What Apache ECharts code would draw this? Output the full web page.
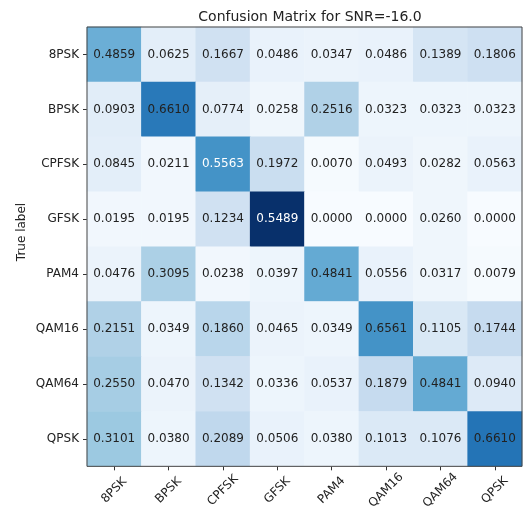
<!DOCTYPE html>
<html>
<head>
<meta charset="utf-8">
<script src="https://cdn.jsdelivr.net/npm/echarts@6/dist/echarts.min.js"></script>
<style>html,body{margin:0;padding:0;background:#fff}#c{width:526px;height:512px}</style>
</head>
<body>
<div id="c"></div>
<script>
const labels = ['8PSK','BPSK','CPFSK','GFSK','PAM4','QAM16','QAM64','QPSK'];
// Displayed normalized values (rows = true label, cols = predicted)
const values = [
  [0.4859,0.0625,0.1667,0.0486,0.0347,0.0486,0.1389,0.1806],
  [0.0903,0.6610,0.0774,0.0258,0.2516,0.0323,0.0323,0.0323],
  [0.0845,0.0211,0.5563,0.1972,0.0070,0.0493,0.0282,0.0563],
  [0.0195,0.0195,0.1234,0.5489,0.0000,0.0000,0.0260,0.0000],
  [0.0476,0.3095,0.0238,0.0397,0.4841,0.0556,0.0317,0.0079],
  [0.2151,0.0349,0.1860,0.0465,0.0349,0.6561,0.1105,0.1744],
  [0.2550,0.0470,0.1342,0.0336,0.0537,0.1879,0.4841,0.0940],
  [0.3101,0.0380,0.2089,0.0506,0.0380,0.1013,0.1076,0.6610]
];
// Colour intensity of each cell (0..1 on the Blues scale)
const shades = [
  [0.50,0.10,0.20,0.07,0.06,0.07,0.17,0.21],
  [0.11,0.72,0.09,0.04,0.32,0.05,0.05,0.05],
  [0.10,0.03,0.62,0.23,0.01,0.06,0.04,0.07],
  [0.03,0.03,0.20,1.00,0.00,0.00,0.04,0.00],
  [0.06,0.33,0.03,0.05,0.52,0.07,0.04,0.01],
  [0.32,0.05,0.29,0.06,0.05,0.62,0.15,0.25],
  [0.35,0.06,0.20,0.05,0.07,0.25,0.52,0.13],
  [0.38,0.05,0.27,0.07,0.05,0.14,0.14,0.74]
];
const whiteText = [[2,2],[3,3]];
const titleText = 'Confusion Matrix for SNR=-16.0';
const yName = 'True label';

const data = [];
for (let r = 0; r < labels.length; r++) {
  for (let c = 0; c < labels.length; c++) {
    const isWhite = whiteText.some(p => p[0] === r && p[1] === c);
    data.push({ value: [c, r, values[r][c], shades[r][c]], label: { color: isWhite ? '#ffffff' : '#222222' } });
  }
}
const font = 'DejaVu Sans';
const chart = echarts.init(document.getElementById('c'), null, {renderer: 'canvas'});
chart.setOption({
  animation: false,
  backgroundColor: '#fff',
  title: { text: titleText, left: 305, top: 5, textAlign: 'center',
    textStyle: { fontFamily: font, fontSize: 14, fontWeight: 'normal', color: '#222' } },
  grid: { left: 87, right: 4, top: 27, bottom: 45, show: true, borderColor: '#444', borderWidth: 1, z: 10 },
  xAxis: {
    type: 'category', data: labels, position: 'bottom',
    axisLine: { show: false },
    axisTick: { show: true, alignWithLabel: true, length: 4, lineStyle: { color: '#333' } },
    axisLabel: { rotate: 45, align: 'center', verticalAlign: 'middle', margin: 24, fontFamily: font, fontSize: 12, color: '#222', interval: 0 },
    splitLine: { show: false }
  },
  yAxis: {
    type: 'category', data: labels, inverse: true,
    axisLine: { show: false },
    axisTick: { show: true, alignWithLabel: true, length: 4, lineStyle: { color: '#333' } },
    axisLabel: { margin: 8, fontFamily: font, fontSize: 12, color: '#222', interval: 0 },
    splitLine: { show: false }
  },
  visualMap: { show: false, type: 'continuous', min: 0, max: 1, dimension: 3,
    inRange: { color: ['#f7fbff','#deebf7','#c6dbef','#9ecae1','#6baed6','#4292c6','#2171b5','#08519c','#08306b'] } },
  graphic: [
    { type: 'text', x: 22, y: 232, rotation: Math.PI / 2,
      style: { text: yName, fontFamily: font, fontSize: 12, fill: '#222', align: 'center', verticalAlign: 'middle' } }
  ],
  series: [{
    type: 'heatmap', data: data, encode: { x: 0, y: 1, value: 3 },
    label: { show: true, fontFamily: font, fontSize: 12, formatter: p => p.value[2].toFixed(4) },
    emphasis: { disabled: true }, itemStyle: { borderWidth: 0 }
  }]
});
</script>
</body>
</html>
